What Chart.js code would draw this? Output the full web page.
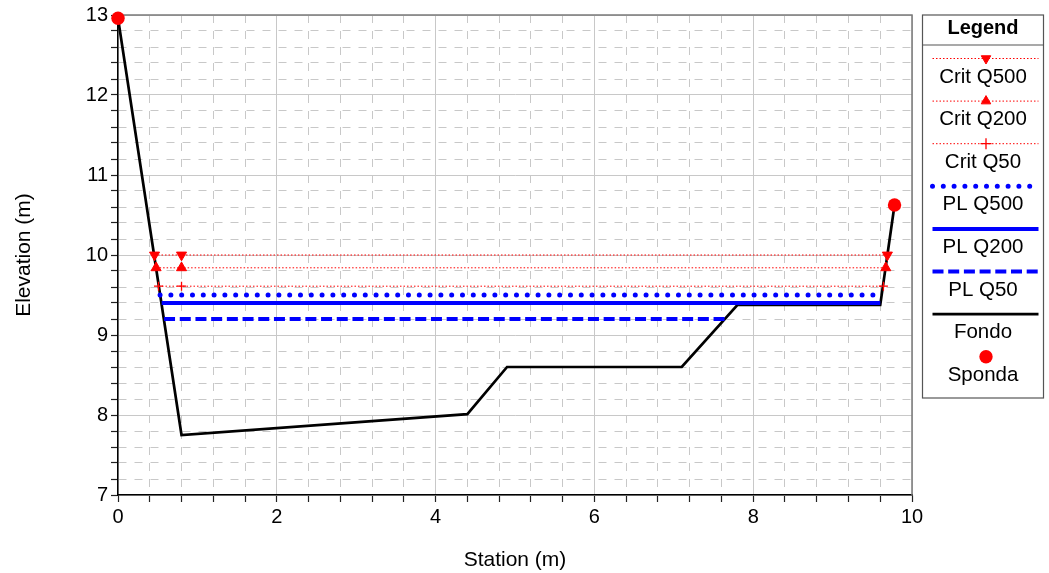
<!DOCTYPE html>
<html>
<head>
<meta charset="utf-8">
<title>Cross section</title>
<script src="https://cdn.jsdelivr.net/npm/chart.js@4/dist/chart.umd.min.js"></script>
<style>
  html, body { margin: 0; padding: 0; background: #fff; }
  #wrap { position: relative; width: 1049px; height: 573px; }
</style>
</head>
<body>
<div id="wrap"><canvas id="chart"></canvas></div>
<script>
// station (m) / elevation (m)
const fondoX = [0, 0.8, 4.4, 4.9, 7.1, 7.8, 9.6, 9.78];
const fondoY = [12.96, 7.75, 8.01, 8.6, 8.6, 9.375, 9.375, 10.625];
const spondaX = [0, 9.78];
const spondaY = [12.96, 10.625];

const plQ500X = [0.53, 9.62];
const plQ500Y = [9.5, 9.5];
const plQ200X = [0.55, 9.6];
const plQ200Y = [9.4, 9.4];
const plQ50X = [0.58, 7.65];
const plQ50Y = [9.2, 9.2];

const critQ500X = [0.46, 0.8, 9.69];
const critQ500Y = [10.0, 10.0, 10.0];
const critQ200X = [0.48, 0.8, 9.67];
const critQ200Y = [9.84, 9.84, 9.84];
const critQ50X = [0.51, 0.8, 9.64];
const critQ50Y = [9.61, 9.61, 9.61];

const xTicks = { min: 0, max: 10, major: 2, minor: 0.4 };
const yTicks = { min: 7, max: 13, major: 1, minor: 0.2 };

const FONT = "'Liberation Sans', Arial, Helvetica, sans-serif";
Chart.defaults.font.family = FONT;
Chart.defaults.font.size = 20;
Chart.defaults.color = '#000';

function toPoints(xs, ys) {
    return xs.map((x, i) => ({ x: x, y: ys[i] }));
}

function isMajor(v, step) {
    const r = v / step;
    return Math.abs(r - Math.round(r)) < 1e-6;
}

const datasets = [
    {
        label: 'Crit Q500',
        data: toPoints(critQ500X, critQ500Y),
        borderColor: '#ff0000', borderWidth: 1, borderDash: [1.5, 2],
        pointStyle: 'triangle', pointRotation: 180, pointRadius: 5.8,
        pointBackgroundColor: '#ff0000', pointBorderColor: '#ff0000', pointBorderWidth: 1,
        order: 1
    },
    {
        label: 'Crit Q200',
        data: toPoints(critQ200X, critQ200Y),
        borderColor: '#ff0000', borderWidth: 1, borderDash: [1.5, 2],
        pointStyle: 'triangle', pointRotation: 0, pointRadius: 5.8,
        pointBackgroundColor: '#ff0000', pointBorderColor: '#ff0000', pointBorderWidth: 1,
        order: 2
    },
    {
        label: 'Crit Q50',
        data: toPoints(critQ50X, critQ50Y),
        borderColor: '#ff0000', borderWidth: 1, borderDash: [1.5, 2],
        pointStyle: 'cross', pointRotation: 0, pointRadius: 4.5,
        pointBackgroundColor: '#ff0000', pointBorderColor: '#ff0000', pointBorderWidth: 1.3,
        order: 3
    },
    {
        label: 'PL Q500',
        data: toPoints(plQ500X, plQ500Y),
        borderColor: '#0000ff', borderWidth: 5, borderDash: [0, 10.8],
        borderCapStyle: 'round', pointRadius: 0,
        order: 4
    },
    {
        label: 'PL Q200',
        data: toPoints(plQ200X, plQ200Y),
        borderColor: '#0000ff', borderWidth: 4, pointRadius: 0,
        order: 5
    },
    {
        label: 'PL Q50',
        data: toPoints(plQ50X, plQ50Y),
        borderColor: '#0000ff', borderWidth: 4, borderDash: [11, 4.7],
        pointRadius: 0,
        order: 6
    },
    {
        label: 'Fondo',
        data: toPoints(fondoX, fondoY),
        borderColor: '#000000', borderWidth: 2.7, pointRadius: 0,
        borderJoinStyle: 'miter',
        order: 7
    },
    {
        label: 'Sponda',
        data: toPoints(spondaX, spondaY),
        showLine: false, borderColor: '#ff0000',
        pointStyle: 'circle', pointRadius: 6.7,
        pointBackgroundColor: '#ff0000', pointBorderColor: '#ff0000', pointBorderWidth: 0,
        clip: false,
        order: 0
    }
];

// gray frame on top/right of plot area
const frame = {
    id: 'frame',
    beforeDatasetsDraw(chart) {
        const { ctx, chartArea: a } = chart;
        ctx.save();
        ctx.strokeStyle = '#7a7a7a';
        ctx.lineWidth = 1.5;
        ctx.beginPath();
        ctx.moveTo(a.left, a.top);
        ctx.lineTo(a.right, a.top);
        ctx.lineTo(a.right, a.bottom);
        ctx.stroke();
        ctx.restore();
    }
};

// boxed legend to the right: line sample above, label below
const boxLegend = {
    id: 'boxLegend',
    afterDraw(chart) {
        const { ctx, chartArea: a } = chart;
        const left = a.right + 10.5, right = 1043.5;
        const top = 15, bottom = 398;
        const cx = (left + right) / 2;
        ctx.save();
        ctx.strokeStyle = '#555';
        ctx.lineWidth = 1.2;
        ctx.strokeRect(left, top, right - left, bottom - top);
        ctx.beginPath();
        ctx.moveTo(left, 45);
        ctx.lineTo(right, 45);
        ctx.stroke();

        ctx.fillStyle = '#000';
        ctx.textAlign = 'center';
        ctx.textBaseline = 'middle';
        ctx.font = 'bold 20px ' + FONT;
        ctx.fillText('Legend', cx, 28);

        chart.data.datasets.forEach((ds, i) => {
            const ly = 58.5 + i * 42.6;
            const x1 = left + 10, x2 = right - 5;
            if (ds.showLine !== false) {
                ctx.save();
                ctx.strokeStyle = ds.borderColor;
                ctx.lineWidth = ds.borderWidth;
                ctx.lineCap = ds.borderCapStyle || 'butt';
                ctx.setLineDash(ds.borderDash || []);
                ctx.beginPath();
                ctx.moveTo(x1, ly);
                ctx.lineTo(x2, ly);
                ctx.stroke();
                ctx.restore();
            }
            if (ds.pointRadius > 0) {
                ctx.save();
                ctx.fillStyle = ds.pointBackgroundColor;
                ctx.strokeStyle = ds.pointBorderColor;
                ctx.lineWidth = ds.pointBorderWidth;
                Chart.helpers.drawPoint(ctx, {
                    pointStyle: ds.pointStyle,
                    rotation: ds.pointRotation || 0,
                    radius: ds.label === 'Sponda' ? 6.7 : 5.5,
                    borderWidth: ds.pointBorderWidth
                }, cx + 3, ly);
                ctx.restore();
            }
            ctx.fillStyle = '#000';
            ctx.font = '20.5px ' + FONT;
            ctx.fillText(ds.label, cx, ly + 18.5);
        });
        ctx.restore();
    }
};

const chart = new Chart(document.getElementById('chart'), {
    type: 'line',
    data: { datasets: datasets },
    options: {
        responsive: true,
        maintainAspectRatio: false,
        animation: false,
        layout: { padding: { top: 15, right: 137, bottom: 0, left: 0 } },
        plugins: {
            legend: { display: false },
            tooltip: { enabled: false }
        },
        scales: {
            x: {
                type: 'linear',
                min: xTicks.min,
                max: xTicks.max,
                afterFit: (scale) => { scale.height = 78; },
                ticks: {
                    stepSize: xTicks.minor,
                    autoSkip: false,
                    maxRotation: 0,
                    padding: 3,
                    font: { size: 20 },
                    callback: (v) => isMajor(v, xTicks.major) ? String(Math.round(v)) : ''
                },
                grid: {
                    color: (c) => (c.tick && isMajor(c.tick.value, xTicks.major)) ? '#c8c8c8' : '#c8c8c8',
                    lineWidth: 1,
                    tickColor: '#222',
                    tickLength: 7,
                    tickWidth: 1.2
                },
                border: {
                    color: '#000',
                    width: 1.5,
                    dash: (c) => (c.tick && !isMajor(c.tick.value, xTicks.major)) ? [8, 8] : []
                },
                title: {
                    display: true,
                    text: 'Station (m)',
                    font: { size: 21 },
                    padding: { top: 0, bottom: 0 }
                }
            },
            y: {
                type: 'linear',
                min: yTicks.min,
                max: yTicks.max,
                afterFit: (scale) => { scale.width = 118; },
                ticks: {
                    stepSize: yTicks.minor,
                    autoSkip: false,
                    padding: 3,
                    font: { size: 20 },
                    callback: (v) => isMajor(v, yTicks.major) ? String(Math.round(v)) : ''
                },
                grid: {
                    color: (c) => (c.tick && isMajor(c.tick.value, yTicks.major)) ? '#c8c8c8' : '#c8c8c8',
                    lineWidth: 1,
                    tickColor: '#222',
                    tickLength: 7,
                    tickWidth: 1.2
                },
                border: {
                    color: '#000',
                    width: 1.5,
                    dash: (c) => (c.tick && !isMajor(c.tick.value, yTicks.major)) ? [8, 8] : []
                },
                title: {
                    display: true,
                    text: 'Elevation (m)',
                    font: { size: 21 },
                    padding: { top: 12, bottom: 0 }
                }
            }
        }
    },
    plugins: [frame, boxLegend]
});
</script>
</body>
</html>
